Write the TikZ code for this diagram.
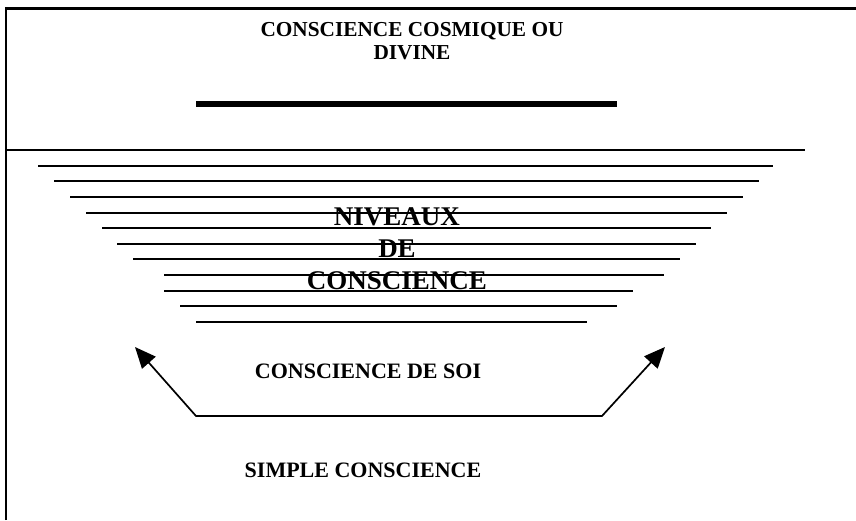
\documentclass[tikz,border=0pt]{standalone}
\usepackage{fontspec}
\setmainfont{Liberation Serif}
\usetikzlibrary{arrows.meta}
\begin{document}
\begin{tikzpicture}[x=1pt,y=-1pt,
  frame/.style={line width=2.2pt},
  rung/.style={line width=1.9pt},
  bar/.style={line width=6pt},
  caption/.style={font=\bfseries\fontsize{22}{24}\selectfont, align=center, inner sep=0pt},
  titlecaption/.style={font=\bfseries\fontsize{21.3}{23.5}\selectfont, align=center, inner sep=0pt},
  bigcaption/.style={font=\bfseries\fontsize{27}{32}\selectfont, align=center, inner sep=0pt},
  upward/.style={line width=1.7pt, {Triangle[length=21pt,width=18pt]}-{Triangle[length=21pt,width=18pt]}}]
\useasboundingbox (0,0) rectangle (856,520);

% open frame and the dividing rule
\draw[frame] (6,520) -- (6,8.5) -- (856,8.5);
\draw[frame] (6,150) -- (805,150);

% cosmic level: title and heavy bar
\node[titlecaption] (cosmic) at (412,41) {CONSCIENCE COSMIQUE OU\\DIVINE};
\draw[bar] (196,103.5) -- (617,103.5);

% narrowing stack of rungs
\foreach \y/\a/\b in {165.7/38/773, 181.3/54/759, 197/70/743, 212.7/86/727,
                      228.3/102/711, 244/117/696, 259.3/133/680, 275.3/164/664,
                      290.7/164/633, 306/180/617, 321.7/196/587}
  \draw[rung] (\a,\y) -- (\b,\y);

\node[bigcaption] (levels) at (397,249) {NIVEAUX\\DE\\CONSCIENCE};

% self-consciousness and simple consciousness
\node[caption] (self) at (368,371) {CONSCIENCE DE SOI};
\node[caption] (simple) at (363,470) {SIMPLE CONSCIENCE};

\coordinate (lt) at (135,347);
\coordinate (lc) at (196,416);
\coordinate (rc) at (602,416);
\coordinate (rt) at (665,347);
\draw[upward] (lt) -- (lc) -- (rc) -- (rt);
\end{tikzpicture}
\end{document}
